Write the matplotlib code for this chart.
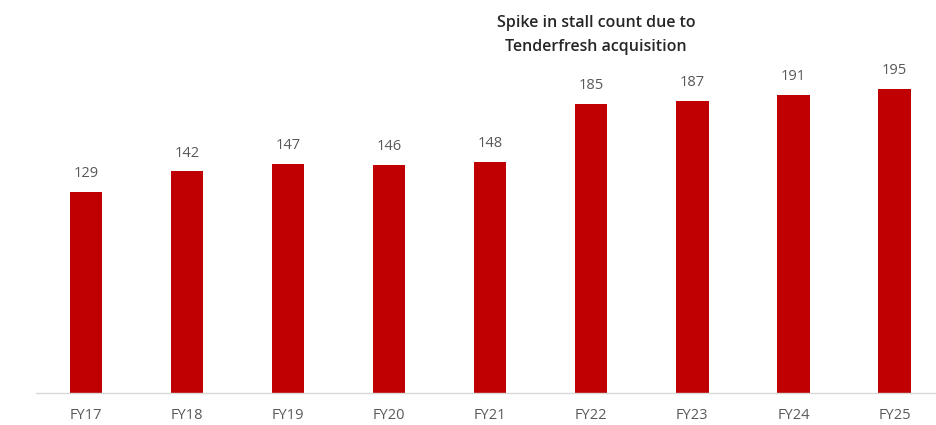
import numpy as np
import matplotlib
matplotlib.use("Agg")
import matplotlib.pyplot as plt

YEARS = ["FY17", "FY18", "FY19", "FY20", "FY21", "FY22", "FY23", "FY24", "FY25"]
STALLS = [129, 142, 147, 146, 148, 185, 187, 191, 195]
NOTE = "Spike in stall count due to\nTenderfresh acquisition"

BAR_COLOR = "#c00000"
LABEL_GREY = "#595959"

fig = plt.figure(figsize=(9.36, 4.25), dpi=100)
# axes runs a bit past the right edge so the last bar sits near the border
ax = fig.add_axes([35.5 / 936, 1 - 393 / 425, 909.5 / 936, 390 / 425])

x = np.arange(len(YEARS))
bars = ax.bar(x, STALLS, width=0.32, color=BAR_COLOR)
for xi, v in zip(x, STALLS):
    ax.text(xi, v + 7, str(v), ha="center", va="bottom", fontsize=10.5,
            color=LABEL_GREY, family="Open Sans")

ax.set_xlim(-0.5, len(YEARS) - 0.5)
ax.set_ylim(0, 250)
ax.set_xticks(x)
ax.set_xticklabels(YEARS, fontsize=10.5, color=LABEL_GREY, family="Open Sans")
ax.tick_params(axis="x", length=0, pad=11)
ax.set_yticks([])
for side in ["top", "right", "left"]:
    ax.spines[side].set_visible(False)
ax.spines["bottom"].set_color("#d9d9d9")
ax.spines["bottom"].set_linewidth(1.0)

fig.text(596 / 936, 1 - 35 / 425, NOTE, ha="center", va="center", fontsize=11.5,
         fontweight="semibold", color="#262626", family="Open Sans", linespacing=1.65)

fig.savefig("out.png", dpi=100)
plt.close(fig)
